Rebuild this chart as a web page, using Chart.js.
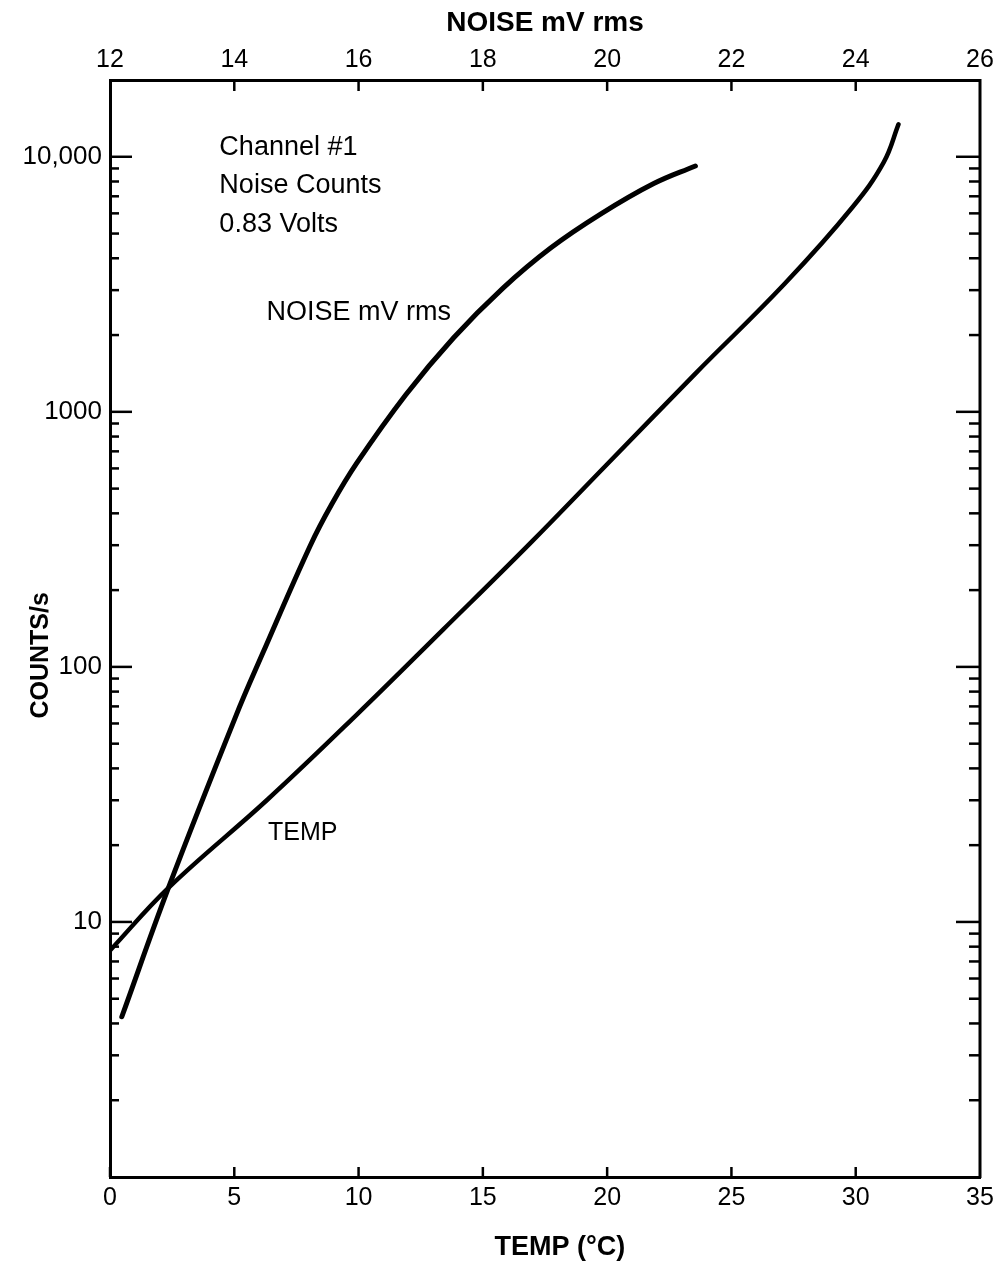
<!DOCTYPE html>
<html>
<head>
<meta charset="utf-8">
<script src="https://cdn.jsdelivr.net/npm/chart.js@4.4.0/dist/chart.umd.min.js"></script>
<style>
  html, body { margin: 0; padding: 0; background: #fff; }
  #wrap { width: 1007px; height: 1266px; position: relative; }
</style>
</head>
<body>
<div id="wrap"><canvas id="chart"></canvas></div>
<script>
// noise curve, read against the top axis (mV rms)
const noiseMv = [12.19, 12.94, 14.02, 14.45, 15.22, 15.57, 15.97, 16.76, 17.53, 18.32, 19.09, 19.90, 20.75, 21.42];
const noiseCounts = [4.25, 13.6, 63.7, 112, 298, 435, 629, 1167, 1952, 3048, 4385, 5970, 7850, 9204];

// temperature curve, read against the bottom axis (deg C)
const tempC = [0, 2.35, 6.34, 9.93, 13.4, 16.9, 19.97, 23.56, 27.15, 29.86, 31.13, 31.72];
const tempCounts = [7.73, 13.6, 30.2, 65, 140, 305, 619, 1416, 3184, 6324, 9528, 13400];

const countLabels = [10, 100, 1000, 10000];
const countText = ["10", "100", "1000", "10,000"];

// text written on the plot: [text, temp x, counts y, font size]
const notes = [
  ["Channel #1", 4.4, 10880, 27],
  ["Noise Counts", 4.4, 7720, 27],
  ["0.83 Volts", 4.4, 5440, 27],
  ["NOISE mV rms", 6.3, 2450, 27],
  ["TEMP", 6.36, 22.2, 25]
];

const FONT = "'Liberation Sans', Arial, sans-serif";

const toPoints = (xs, ys) => xs.map((x, i) => ({ x, y: ys[i] }));

// log ticks 1..9 of each decade only
const isDecadeStep = v => {
  const s = v / Math.pow(10, Math.floor(Math.log10(v) + 1e-9));
  return Math.abs(s - Math.round(s)) < 1e-6;
};

const inwardTicks = {
  id: "inwardTicks",
  afterDraw(chart) {
    const { ctx, chartArea: area, scales } = chart;
    const line = (x1, y1, x2, y2) => {
      ctx.beginPath();
      ctx.moveTo(x1, y1);
      ctx.lineTo(x2, y2);
      ctx.stroke();
    };
    ctx.save();
    ctx.strokeStyle = "#000";
    ctx.lineWidth = 3;
    line(area.right, area.top - 1, area.right, area.bottom + 1);

    ctx.lineWidth = 2.5;
    const y = scales.y;
    y.ticks.forEach(t => {
      if (t.value <= y.min || t.value >= y.max || !isDecadeStep(t.value)) return;
      const py = y.getPixelForValue(t.value);
      const major = countLabels.includes(t.value);
      line(area.left, py, area.left + (major ? 22 : 9), py);
      line(area.right, py, area.right - (major ? 24 : 11), py);
    });

    const x = scales.x;
    x.ticks.forEach(t => {
      if (t.value >= x.max) return;
      const px = x.getPixelForValue(t.value);
      line(px, area.bottom, px, area.bottom - 10);
    });

    const xt = scales.xTop;
    xt.ticks.forEach(t => {
      if (t.value <= xt.min || t.value >= xt.max) return;
      const px = xt.getPixelForValue(t.value);
      line(px, area.top, px, area.top + 11);
    });
    ctx.restore();
  }
};

const plotNotes = {
  id: "plotNotes",
  afterDraw(chart) {
    const { ctx, scales } = chart;
    ctx.save();
    ctx.fillStyle = "#000";
    ctx.textAlign = "left";
    ctx.textBaseline = "middle";
    notes.forEach(([text, xv, yv, size]) => {
      ctx.font = size + "px " + FONT;
      ctx.fillText(text, scales.x.getPixelForValue(xv), scales.y.getPixelForValue(yv));
    });

    // axis titles for the bottom and left axes
    ctx.font = "bold 27px " + FONT;
    ctx.textAlign = "center";
    ctx.fillText("TEMP (°C)", scales.x.getPixelForValue(18.1), 1248);
    ctx.translate(41, scales.y.getPixelForValue(111));
    ctx.rotate(-Math.PI / 2);
    ctx.font = "bold 25px " + FONT;
    ctx.fillText("COUNTS/s", 0, 0);
    ctx.restore();
  }
};

const tickFont = { family: FONT, size: 25 };
const titleFont = { family: FONT, size: 28, weight: "bold" };

new Chart(document.getElementById("chart"), {
  type: "line",
  data: {
    datasets: [
      {
        label: "NOISE mV rms",
        data: toPoints(noiseMv, noiseCounts),
        xAxisID: "xTop",
        yAxisID: "y",
        borderColor: "#000",
        borderWidth: 5,
        borderCapStyle: "round",
        tension: 0.4,
        pointRadius: 0
      },
      {
        label: "TEMP",
        data: toPoints(tempC, tempCounts),
        xAxisID: "x",
        yAxisID: "y",
        borderColor: "#000",
        borderWidth: 4.5,
        borderCapStyle: "round",
        tension: 0.4,
        pointRadius: 0
      }
    ]
  },
  options: {
    responsive: true,
    maintainAspectRatio: false,
    animation: false,
    layout: { padding: { left: 0, right: 27, top: 0, bottom: 0 } },
    plugins: { legend: { display: false }, tooltip: { enabled: false } },
    scales: {
      x: {
        type: "linear",
        position: "bottom",
        min: 0,
        max: 35,
        ticks: { stepSize: 5, color: "#000", font: tickFont, padding: 6, maxRotation: 0 },
        grid: { drawOnChartArea: false, drawTicks: false },
        border: { color: "#000", width: 3 },
        afterFit: s => { s.height = 89; }
      },
      xTop: {
        type: "linear",
        position: "top",
        min: 12,
        max: 26,
        ticks: { stepSize: 2, color: "#000", font: tickFont, padding: 5, maxRotation: 0 },
        grid: { drawOnChartArea: false, drawTicks: false },
        border: { color: "#000", width: 3 },
        title: { display: true, text: "NOISE mV rms", color: "#000", font: titleFont, padding: { top: 6, bottom: 0 } },
        afterFit: s => { s.height = 80; }
      },
      y: {
        type: "logarithmic",
        position: "left",
        min: 1,
        max: 20000,
        ticks: {
          autoSkip: false,
          color: "#000",
          font: { family: FONT, size: 26 },
          padding: 8,
          callback: v => {
            const i = countLabels.indexOf(v);
            return i >= 0 ? countText[i] : "";
          }
        },
        grid: { drawOnChartArea: false, drawTicks: false },
        border: { color: "#000", width: 3 },
        afterFit: s => { s.width = 110; }
      }
    }
  },
  plugins: [inwardTicks, plotNotes]
});
</script>
</body>
</html>
